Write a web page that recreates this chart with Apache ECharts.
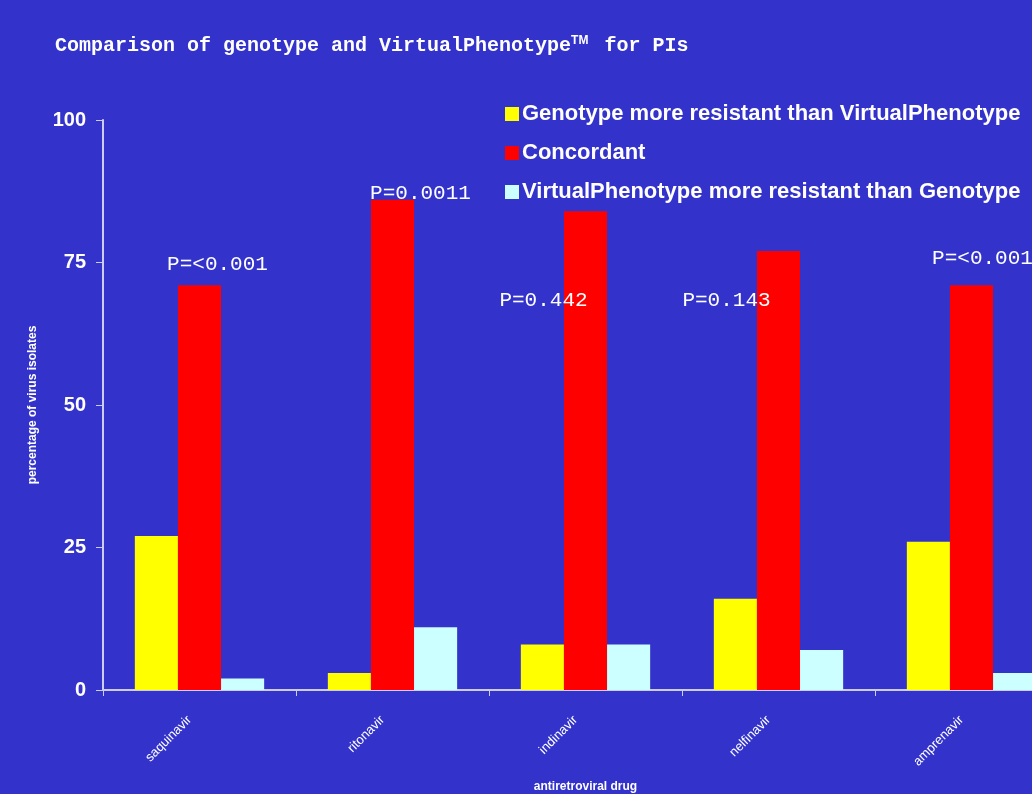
<!DOCTYPE html>
<html><head><meta charset="utf-8">
<script src="https://cdn.jsdelivr.net/npm/echarts@6/dist/echarts.min.js"></script>
<style>html,body{margin:0;padding:0;background:#3333CC;}#c{width:1032px;height:794px;}</style>
</head><body><div id="c"></div>
<script>
const categories = ['saquinavir', 'ritonavir', 'indinavir', 'nelfinavir', 'amprenavir'];
const genotypeMore = [27, 3, 8, 16, 26];
const concordant = [71, 86, 84, 77, 71];
const phenotypeMore = [2, 11, 8, 7, 3];
const pLabels = ['P=<0.001', 'P=0.0011', 'P=0.442', 'P=0.143', 'P=<0.001'];
const pLabelY = [74.6, 87.2, 68.4, 68.4, 75.8];
const pLabelShift = [18, 28, -42, -52, 11];
const yTicks = [0, 25, 50, 75, 100];
const seriesNames = ['Genotype more resistant than VirtualPhenotype', 'Concordant', 'VirtualPhenotype more resistant than Genotype'];

const chart = echarts.init(document.getElementById('c'));
chart.setOption({
  backgroundColor: '#3333CC',
  animation: false,
  title: {
    text: 'Comparison of genotype and VirtualPhenotype{tm|TM} for PIs',
    left: 50, top: 30,
    textStyle: {
      color: '#ffffff', fontFamily: 'Liberation Mono', fontWeight: 'bold', fontSize: 20,
      rich: { tm: { fontFamily: 'Liberation Sans', fontWeight: 'bold', fontSize: 12, verticalAlign: 'top', color: '#ffffff', padding: [0, 4, 10, 0] } }
    }
  },
  legend: {
    data: seriesNames,
    orient: 'vertical', left: 500, top: 98,
    itemWidth: 14, itemHeight: 14, itemGap: 17,
    icon: 'rect',
    textStyle: { color: '#ffffff', fontFamily: 'Liberation Sans', fontWeight: 'bold', fontSize: 22, padding: [0, 0, 0, -2] }
  },
  grid: { left: 103, top: 120, width: 965, height: 570, outerBoundsMode: 'none' },
  xAxis: {
    type: 'category', data: categories,
    name: 'antiretroviral drug', nameLocation: 'middle', nameGap: 91,
    nameTextStyle: { color: '#ffffff', fontFamily: 'Liberation Sans', fontWeight: 'bold', fontSize: 12 },
    axisLine: { lineStyle: { color: '#ccccf0', width: 2 } },
    axisTick: { show: true, length: 6, lineStyle: { color: '#ccccf0' } },
    axisLabel: { rotate: 45, color: '#ffffff', fontFamily: 'Liberation Sans', fontSize: 13, margin: 18, padding: [0, 14, 0, 0], interval: 0 }
  },
  yAxis: {
    type: 'value', min: 0, max: 100, interval: 25,
    name: 'percentage of virus isolates', nameLocation: 'middle', nameGap: 64, nameRotate: 90,
    nameTextStyle: { color: '#ffffff', fontFamily: 'Liberation Sans', fontWeight: 'bold', fontSize: 12 },
    axisLine: { show: true, lineStyle: { color: '#ccccf0', width: 2 } },
    axisTick: { show: true, length: 7, lineStyle: { color: '#ccccf0' } },
    splitLine: { show: false },
    axisLabel: {
      color: '#ffffff', fontFamily: 'Liberation Sans', fontWeight: 'bold', fontSize: 20, margin: 17,
      formatter: v => yTicks.includes(v) ? String(v) : ''
    }
  },
  series: [
    { name: seriesNames[0], type: 'bar', data: genotypeMore, itemStyle: { color: '#FFFF00' }, barGap: '0%', barCategoryGap: '33%' },
    {
      name: seriesNames[1], type: 'bar', data: concordant, itemStyle: { color: '#FF0000' }, barGap: '0%', barCategoryGap: '33%',
      markPoint: {
        symbol: 'circle', symbolSize: 0, silent: true,
        data: categories.map((c, i) => ({
          coord: [c, pLabelY[i]],
          label: { show: true, formatter: pLabels[i], offset: [pLabelShift[i], 0] }
        })),
        label: { color: '#ffffff', fontFamily: 'Liberation Mono', fontSize: 21, position: 'inside' }
      },
      z: 2
    },
    { name: seriesNames[2], type: 'bar', data: phenotypeMore, itemStyle: { color: '#CCFFFF' }, barGap: '0%', barCategoryGap: '33%' }
  ]
});
</script>
</body></html>
